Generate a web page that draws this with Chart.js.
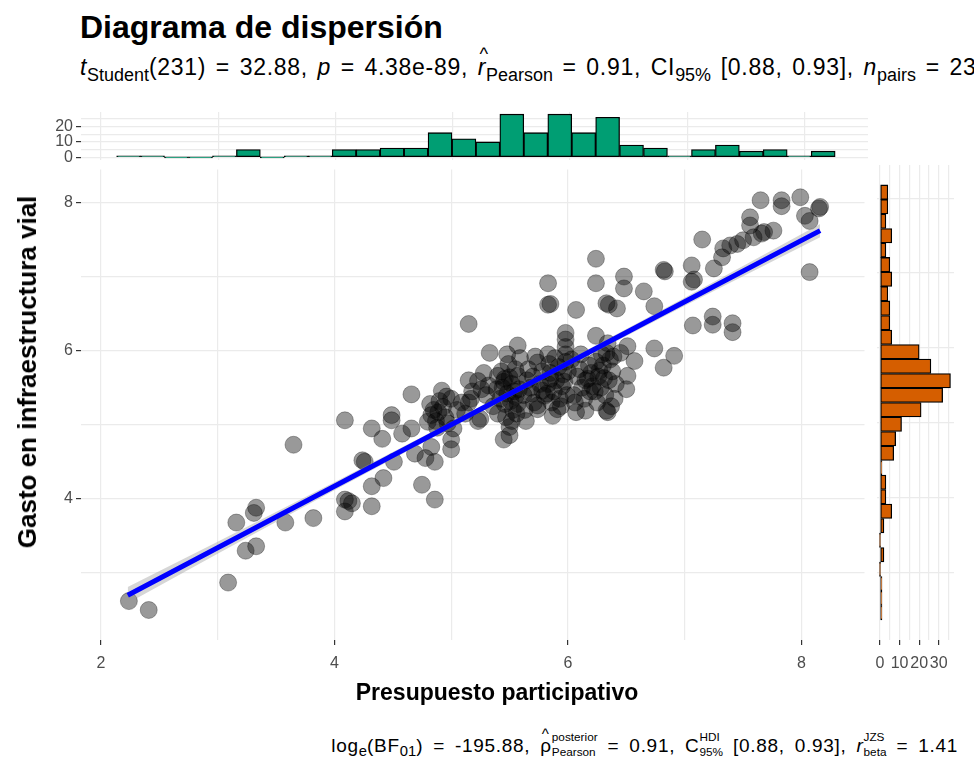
<!DOCTYPE html>
<html lang="es">
<head>
<meta charset="utf-8">
<title>Diagrama de dispersión</title>
<script src="https://cdn.jsdelivr.net/npm/chart.js@4.4.1/dist/chart.umd.min.js"></script>
<style>
  html, body { margin:0; padding:0; background:#fff; }
  body { width:974px; height:758px; position:relative; overflow:hidden; font-family:"Liberation Sans", Arial, sans-serif; color:#000; }
  .abs { position:absolute; white-space:nowrap; line-height:1; }
  canvas { position:absolute; display:block; }
  #title { left:80px; top:11px; font-size:32px; font-weight:bold; }
  #subtitle { left:80px; top:56px; font-size:23px; letter-spacing:0.7px; word-spacing:2.6px; }
  #xtitle { left:497px; top:681px; font-size:23px; font-weight:bold; transform:translateX(-50%); }
  #ytitle { left:27px; top:372px; font-size:26px; font-weight:bold; transform:translate(-50%,-50%) rotate(-90deg); }
  #caption { right:16px; top:729px; font-size:19px; letter-spacing:0.7px; word-spacing:4px; }
  sub { font-size:78%; vertical-align:-0.32em; line-height:0; letter-spacing:0; }
  .hat { position:relative; display:inline-block; }
  .hat .h { position:absolute; left:0.1em; top:-0.62em; font-size:0.8em; font-style:normal; }
  .stack { display:inline-flex; flex-direction:column; vertical-align:0.9em; font-size:62%; line-height:1.3; text-align:left; letter-spacing:0; }
</style>
</head>
<body>
<div id="title" class="abs">Diagrama de dispersión</div>
<div id="subtitle" class="abs"><i>t</i><sub>Student</sub>(231) = 32.88, <i>p</i> = 4.38e-89, <span class="hat"><i>r</i><span class="h">^</span></span><sub>Pearson</sub> = 0.91, CI<sub>95%</sub> [0.88, 0.93], <i>n</i><sub>pairs</sub> = 233</div>

<canvas id="cTop" width="874" height="62" style="left:0px;top:100px;width:874px;height:62px;"></canvas>
<canvas id="cMain" width="874" height="530" style="left:0px;top:160px;width:874px;height:530px;"></canvas>
<canvas id="cRight" width="106" height="530" style="left:868px;top:160px;width:106px;height:530px;"></canvas>

<div id="ytitle" class="abs">Gasto en infraestructura vial</div>
<div id="xtitle" class="abs">Presupuesto participativo</div>
<div id="caption" class="abs">log<sub>e</sub>(BF<sub>01</sub>) = -195.88, <span class="hat">ρ<span class="h">^</span></span><span class="stack"><span>posterior</span><span>Pearson</span></span> = 0.91, C<span class="stack"><span>HDI</span><span>95%</span></span> [0.88, 0.93], <i>r</i><span class="stack"><span>JZS</span><span>beta</span></span> = 1.41</div>

<script>
// ---------- data ----------
const presupuesto = [
  2.24,2.41,3.09,3.16,3.33,3.31,3.24,3.33,3.58,3.65,3.82,4.09,4.09,4.15,4.09,4.12,4.24,4.26,4.32,4.32,
  4.32,4.41,4.42,4.49,4.49,4.51,4.58,4.66,4.66,4.69,4.75,4.78,4.80,4.86,4.83,4.86,4.92,5.00,5.00,
  7.65,7.83,7.83,7.99,8.16,8.03,8.07,7.56,7.56,7.76,7.66,7.59,7.50,7.45,7.39,7.33,7.32,7.25,7.15,7.06,
  7.06,7.08,6.82,6.83,8.07,6.24,5.83,5.83,5.85,6.24,6.48,6.48,6.65,6.33,6.35,6.42,6.07,6.74,5.15,7.07,
  7.24,7.24,7.41,7.41,5.98,8.15,7.68,
  4.82,4.83,4.89,4.93,4.87,4.95,4.85,4.90,4.97,4.88,4.96,
  5.00,5.15,5.15,5.17,5.09,5.05,5.12,5.02,5.18,
  5.23,5.25,5.26,5.32,5.33,5.39,5.30,5.36,5.23,5.28,
  5.40,5.40,5.49,5.50,5.50,5.50,5.57,5.57,5.57,5.45,5.42,5.44,5.46,5.48,5.52,5.53,5.55,5.58,5.45,5.47,
  5.52,5.55,5.59,5.43,5.51,5.56,5.48,5.54,
  5.66,5.71,5.74,5.74,5.68,5.80,5.74,5.62,5.65,5.70,5.76,5.63,5.78,5.69,5.72,5.64,
  5.83,5.91,5.98,5.98,5.98,5.98,5.83,5.85,5.88,5.90,5.93,5.95,5.86,5.92,5.96,5.84,5.99,5.87,5.94,5.82,
  5.97,5.89,6.00,5.85,
  6.07,6.15,6.10,6.15,6.18,6.12,6.08,6.20,6.05,6.14,6.03,6.19,6.11,6.06,6.17,
  6.24,6.33,6.33,6.34,6.24,6.26,6.28,6.30,6.32,6.35,6.38,6.40,6.25,6.36,6.29,6.41,6.23,6.37,6.39,6.27,
  6.31,6.34,
  6.45,6.51,6.50,6.51,6.57,6.74,6.82,6.91,5.46,6.21,5.78
];
const gastoVial = [
  2.62,2.50,2.87,3.68,3.88,3.81,3.30,3.36,3.68,4.73,3.74,5.06,3.99,3.94,3.83,3.97,4.52,4.50,4.95,4.17,
  3.90,4.81,4.28,5.13,5.06,4.50,4.88,4.95,5.41,4.61,4.19,4.55,5.04,3.99,4.70,4.50,5.46,4.80,4.67,
  8.03,8.03,7.95,8.07,7.94,7.82,7.75,7.80,7.69,7.62,7.58,7.53,7.49,7.44,7.42,7.38,7.26,7.11,7.50,7.15,
  6.93,6.96,7.09,7.07,7.06,7.24,6.91,6.62,6.63,6.91,7.00,6.84,6.80,6.64,6.62,6.57,6.55,6.60,6.36,6.34,
  6.46,6.35,6.37,6.25,6.24,7.92,7.60,
  5.28,5.13,5.17,5.24,5.05,5.10,5.20,5.32,5.02,4.96,5.38,
  5.35,5.60,5.30,5.35,5.30,5.20,5.15,4.95,5.45,
  5.59,5.08,5.48,5.53,5.97,5.48,5.40,5.25,5.05,5.70,
  5.66,5.15,5.82,5.64,4.97,4.86,5.28,5.66,6.07,4.80,5.35,5.50,5.28,5.42,5.55,5.20,5.38,5.48,5.58,5.10,
  5.05,5.75,5.90,5.72,5.32,5.15,5.95,5.45,
  5.75,5.30,5.21,5.84,5.50,5.39,5.26,5.40,5.60,5.65,5.55,5.20,5.72,5.42,5.92,5.05,
  5.95,5.21,6.15,6.05,5.95,5.85,5.55,5.70,5.45,5.60,5.35,5.52,5.30,5.78,5.68,5.82,5.40,5.12,5.25,5.42,
  5.58,5.90,5.72,5.62,
  5.17,5.19,5.75,5.60,5.80,5.50,5.65,5.70,5.40,5.35,5.88,5.45,5.95,5.30,5.62,
  6.20,5.97,5.19,5.17,5.85,5.65,5.50,5.80,5.40,5.60,5.72,5.35,5.30,5.88,5.95,5.55,5.45,5.25,5.92,5.73,
  5.63,6.10,
  5.97,6.06,5.48,5.66,5.86,6.03,5.77,5.93,5.62,5.52,5.46
];

// regression line and its confidence band
const fitX   = [2.23, 3.00, 4.00, 5.00, 6.00, 7.00, 8.16];
const fitY   = [2.70, 3.34, 4.17, 5.00, 5.83, 6.66, 7.62];
const bandLo = [2.59, 3.26, 4.115, 4.96, 5.79, 6.605, 7.53];
const bandHi = [2.81, 3.42, 4.225, 5.04, 5.87, 6.715, 7.71];

// marginal histogram of x (30 bins)
const xBinCenters = [2.236,2.440,2.644,2.849,3.053,3.257,3.461,3.665,3.870,4.074,4.278,4.482,4.686,4.891,5.095,
                     5.299,5.503,5.707,5.912,6.116,6.320,6.524,6.728,6.933,7.137,7.341,7.545,7.749,7.954,8.158];
const xBinCounts  = [1,1,0,0,1,5,0,1,1,5,5,6,6,16,12,10,28,16,28,16,26,8,6,1,5,8,4,5,1,4];

// marginal histogram of y (30 bins)
const yBinCenters = [2.459,2.653,2.847,3.041,3.235,3.429,3.622,3.816,4.010,4.204,4.398,4.592,4.786,4.980,5.174,
                     5.368,5.561,5.755,5.949,6.143,6.337,6.531,6.725,6.919,7.113,7.307,7.500,7.694,7.888,8.082];
const yBinCounts  = [1,1,1,0,2,0,2,6,3,3,1,7,8,11,21,32,36,26,20,6,5,5,4,6,5,3,6,3,4,4];

// ticks and gridlines
const xGrid = [2,3,4,5,6,7,8];
const xTickLabels = [2,4,6,8];
const yGrid = [3,4,5,6,7,8];
const yTickLabels = [4,6,8];
const topCountGrid = [0,5,10,15,20,25];
const topCountLabels = [0,10,20];
const rightCountGrid = [0,5,10,15,20,25,30,35];
const rightCountLabels = [0,10,20,30];

// axis limits
const xLim = [1.83, 8.54];
const yLim = [2.095, 8.445];
const topCountLim = [-1.4, 29.4];
const rightCountLim = [-1.8, 37.8];

// ---------- styling ----------
const FONT = '"Liberation Sans", Arial, sans-serif';
Chart.defaults.font.family = FONT;
Chart.defaults.color = '#4d4d4d';
const GRID = '#ebebeb';
const TICK = '#333333';

function setTicks(values){ return s => { s.ticks = values.map(v => ({value: v})); }; }
function labelCb(labels){ return v => labels.includes(v) ? String(v) : ''; }
function tickCol(labels){ return ctx => (ctx.tick && labels.includes(ctx.tick.value)) ? TICK : 'rgba(0,0,0,0)'; }
function fixSize(w, h){
  return s => {
    if (w !== null) s.width = w;
    if (h !== null) s.height = h;
    s.paddingTop = 0; s.paddingBottom = 0; s.paddingLeft = 0; s.paddingRight = 0;
  };
}

const baseOpts = {
  responsive:false, animation:false, devicePixelRatio:1,
  plugins:{ legend:{display:false}, tooltip:{enabled:false} },
  events: []
};
const tickFont = { size:16 };

// ---------- main scatter ----------
new Chart(document.getElementById('cMain'), {
  type:'scatter',
  data:{ datasets:[
    { type:'line', data: fitX.map((x,i)=>({x, y: bandHi[i]})), borderWidth:0, borderColor:'rgba(0,0,0,0)', pointRadius:0, fill:false, order:1 },
    { type:'line', data: fitX.map((x,i)=>({x, y: bandLo[i]})), borderWidth:0, borderColor:'rgba(0,0,0,0)', pointRadius:0, fill:'-1', backgroundColor:'rgba(153,153,153,0.4)', order:1 },
    { type:'scatter', data: presupuesto.map((x,i)=>({x, y: gastoVial[i]})), pointRadius:8.5, backgroundColor:'rgba(0,0,0,0.4)', borderColor:'rgba(0,0,0,0.3)', borderWidth:1, order:2 },
    { type:'line', data: fitX.map((x,i)=>({x, y: fitY[i]})), borderColor:'#0000ff', borderWidth:5, pointRadius:0, fill:false, order:0 }
  ]},
  options:{ ...baseOpts,
    layout:{ padding:{ left:0, right:6, top:5, bottom:0 } },
    scales:{
      x:{ type:'linear', min:xLim[0], max:xLim[1], afterBuildTicks:setTicks(xGrid), afterFit:fixSize(null, 50),
          ticks:{ callback:labelCb(xTickLabels), font:tickFont, color:'#4d4d4d', padding:9, maxRotation:0, autoSkip:false },
          grid:{ color:GRID, lineWidth:1.2, tickLength:5, tickColor:tickCol(xTickLabels), drawTicks:true },
          border:{ display:false } },
      y:{ type:'linear', min:yLim[0], max:yLim[1], afterBuildTicks:setTicks(yGrid), afterFit:fixSize(81, null),
          ticks:{ callback:labelCb(yTickLabels), font:tickFont, color:'#4d4d4d', padding:3, autoSkip:false },
          grid:{ color:GRID, lineWidth:1.2, tickLength:5, tickColor:tickCol(yTickLabels), drawTicks:true },
          border:{ display:false } }
    }
  }
});

// ---------- top marginal histogram ----------
new Chart(document.getElementById('cTop'), {
  type:'bar',
  data:{ datasets:[{ data: xBinCenters.map((c,i)=>({x:c, y:xBinCounts[i]})), backgroundColor:'#009E73', borderColor:'#000000', borderWidth:1.3, borderSkipped:false, minBarLength:1, barPercentage:1, categoryPercentage:1 }] },
  options:{ ...baseOpts,
    layout:{ padding:{ left:0, right:6, top:12, bottom:2.5 } },
    scales:{
      x:{ type:'linear', min:xLim[0], max:xLim[1], offset:false, afterBuildTicks:setTicks(xGrid), afterFit:fixSize(null, 0),
          ticks:{ display:false }, grid:{ color:GRID, lineWidth:1.2, drawTicks:false, offset:false }, border:{ display:false } },
      y:{ type:'linear', min:topCountLim[0], max:topCountLim[1], afterBuildTicks:setTicks(topCountGrid), afterFit:fixSize(81, null),
          ticks:{ callback:labelCb(topCountLabels), font:tickFont, color:'#4d4d4d', padding:3, autoSkip:false },
          grid:{ color:GRID, lineWidth:1.2, tickLength:5, tickColor:tickCol(topCountLabels), drawTicks:true }, border:{ display:false } }
    }
  }
});

// ---------- right marginal histogram ----------
new Chart(document.getElementById('cRight'), {
  type:'bar',
  data:{ datasets:[{ data: yBinCenters.map((c,i)=>({x:yBinCounts[i], y:c})), backgroundColor:'#D55E00', borderColor:'#000000', borderWidth:1.3, borderSkipped:false, minBarLength:1, barPercentage:1, categoryPercentage:1 }] },
  options:{ ...baseOpts, indexAxis:'y',
    layout:{ padding:{ left:0, right:20, top:5, bottom:0 } },
    scales:{
      y:{ type:'linear', min:yLim[0], max:yLim[1], offset:false, afterBuildTicks:setTicks(yGrid), afterFit:fixSize(8.5, null),
          ticks:{ display:false }, grid:{ color:GRID, lineWidth:1.2, drawTicks:false, offset:false }, border:{ display:false } },
      x:{ type:'linear', min:rightCountLim[0], max:rightCountLim[1], afterBuildTicks:setTicks(rightCountGrid), afterFit:fixSize(null, 50),
          ticks:{ callback:labelCb(rightCountLabels), font:tickFont, color:'#4d4d4d', padding:9, maxRotation:0, autoSkip:false },
          grid:{ color:GRID, lineWidth:1.2, tickLength:5, tickColor:tickCol(rightCountLabels), drawTicks:true }, border:{ display:false } }
    }
  }
});
</script>
</body>
</html>
